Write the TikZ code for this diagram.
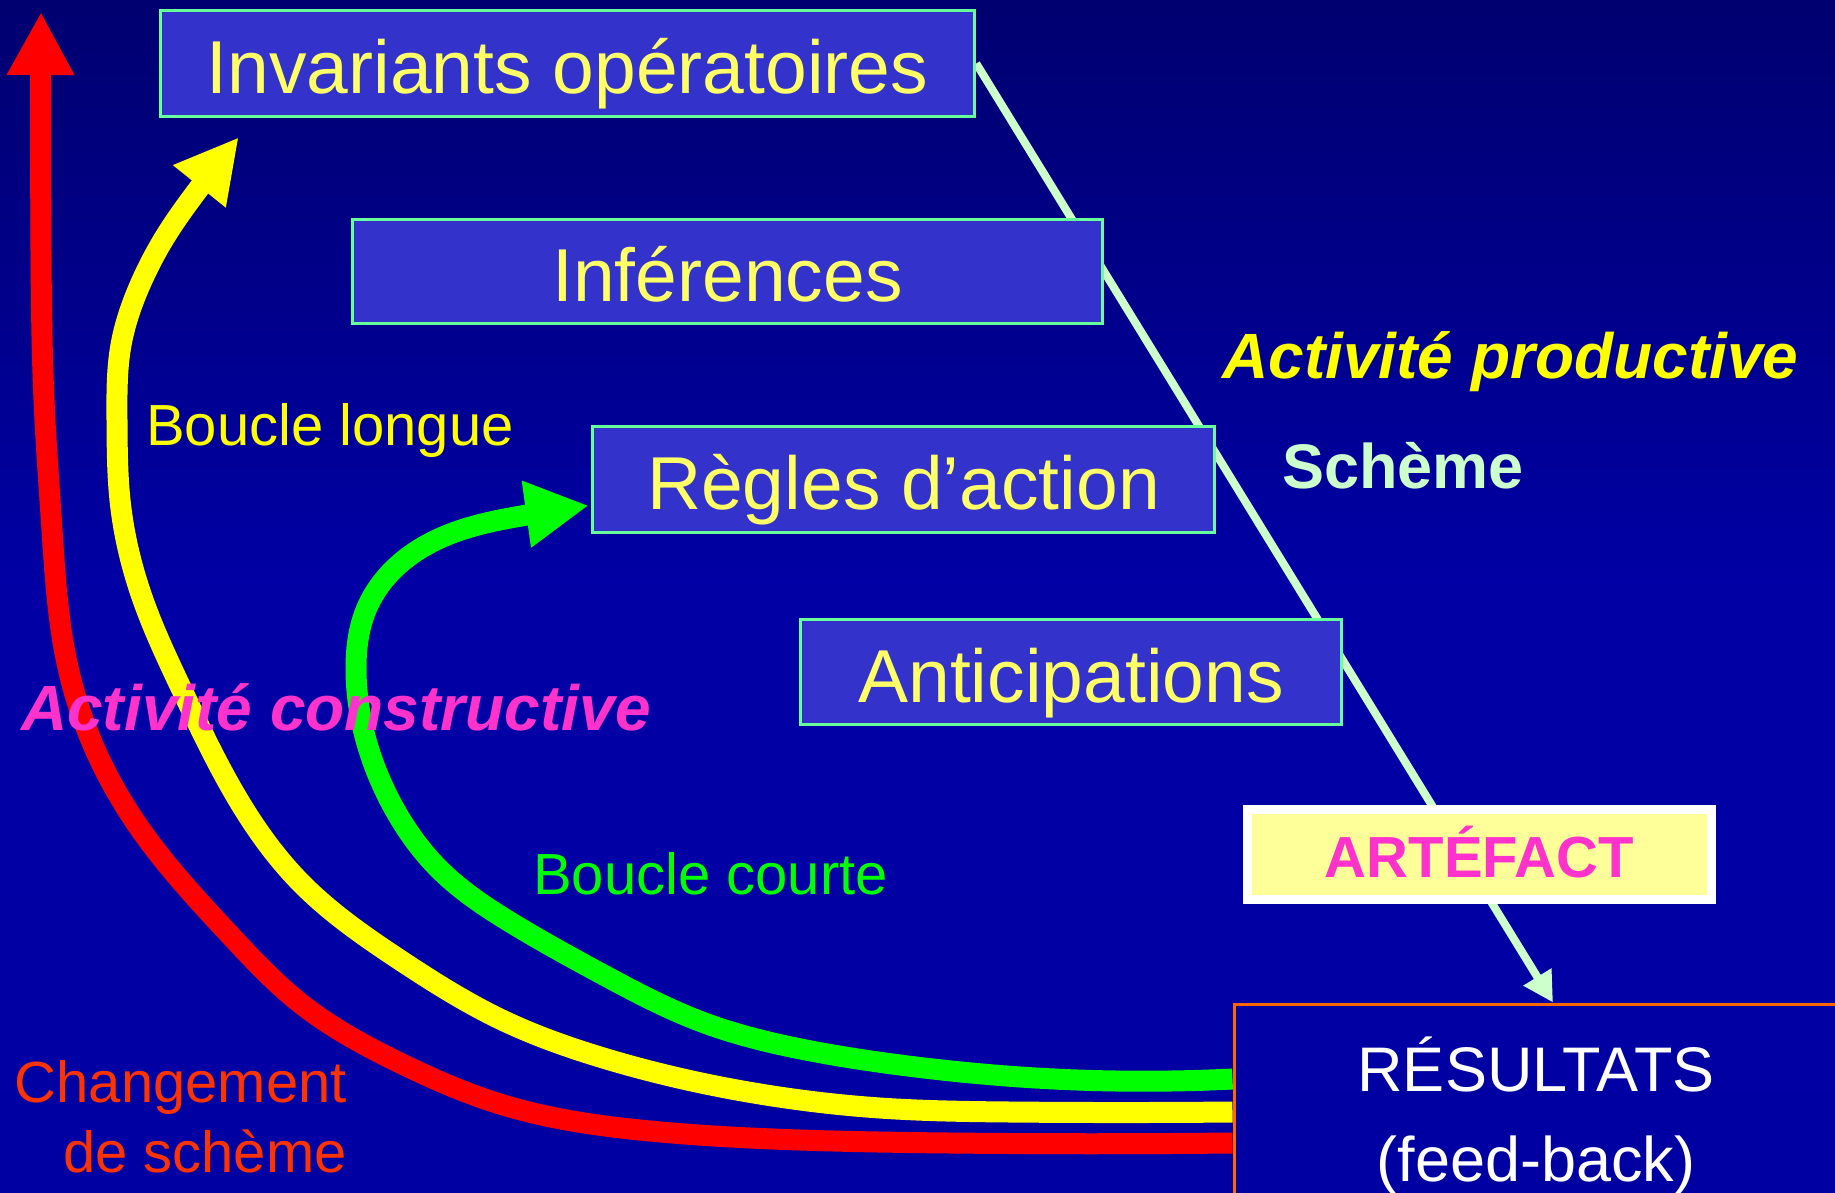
\documentclass[tikz,border=0pt]{standalone}
\usepackage{fontspec}
\setmainfont{Liberation Sans}
\usetikzlibrary{arrows.meta,hobby}
\definecolor{bgA}{RGB}{0,0,112}
\definecolor{bgB}{RGB}{0,0,165}
\definecolor{bgC}{RGB}{0,0,162}
\definecolor{boxfill}{RGB}{51,51,204}
\definecolor{boxline}{RGB}{102,255,153}
\definecolor{boxtext}{RGB}{255,255,102}
\definecolor{magentaA}{RGB}{255,51,204}
\definecolor{schemecol}{RGB}{204,255,204}
\definecolor{artfill}{RGB}{255,255,153}
\definecolor{resline}{RGB}{255,102,0}
\definecolor{chgcol}{RGB}{255,51,0}
\definecolor{bandred}{RGB}{255,0,0}
\definecolor{bandyel}{RGB}{255,255,0}
\definecolor{bandgrn}{RGB}{0,255,0}
\pgfdeclarelayer{back}
\pgfdeclarelayer{mid}
\pgfsetlayers{back,mid,main}
\begin{document}
\begin{tikzpicture}[x=1pt,y=-1pt,
  bx/.style={draw=boxline,line width=3.5pt,fill=boxfill,text=boxtext,inner sep=0pt,
    font=\fontsize{75}{90}\selectfont,text height=60pt,text depth=0pt},
  band/.style={line width=21pt,line join=round,use Hobby shortcut},
  bigtip/.style={-{Triangle[length=63pt,width=63pt]}},
  lbl/.style={inner sep=0pt,anchor=base west},
  smallfont/.style={font=\fontsize{58}{70}\selectfont},
  bifont/.style={font=\bfseries\itshape\fontsize{64}{76}\selectfont},
]
\useasboundingbox (0,0) rectangle (1835,1193);
\begin{pgfonlayer}{back}
\shade[top color=bgA, bottom color=bgC, middle color=bgB] (0,0) rectangle (1835,1193);
\end{pgfonlayer}

% boxes
\node[bx,minimum width=814pt,minimum height=106pt] (inv) at (567.5,63.5) {Invariants opératoires};
\node[bx,minimum width=750pt,minimum height=104pt] (inf) at (727.5,271.5) {Inférences};
\node[bx,minimum width=622pt,minimum height=106pt] (reg) at (903.5,479.5) {Règles d’action};
\node[bx,minimum width=541pt,minimum height=105pt] (ant) at (1071,672) {Anticipations};

\node[draw=resline,line width=3pt,minimum width=638pt,minimum height=260pt,inner sep=0pt,
  anchor=north west] (res) at (1232.5,1002.5) {};
\node[lbl,anchor=base,text=white,font=\fontsize{63}{75}\selectfont] (resA) at (1536,1091) {RÉSULTATS};
\node[lbl,anchor=base,text=white,font=\fontsize{63}{75}\selectfont] (resB) at (1536,1181) {(feed-back)};

% scheme line (behind boxes)
\begin{pgfonlayer}{mid}
\draw[schemecol,line width=8pt,-{Triangle[length=30pt,width=31pt]}] (inv.east) -- (res.north);
\end{pgfonlayer}

\node[draw=white,line width=9pt,fill=artfill,minimum width=464pt,minimum height=90pt,inner sep=0pt,
  text=magentaA,font=\bfseries\fontsize{58}{70}\selectfont,text height=46pt,text depth=0pt]
  (art) at (1479.5,854.5) {ARTÉFACT};

% loop coordinates
\coordinate (gS) at (res.west |- 0,1079);
\coordinate (yS) at (res.west |- 0,1112);
\coordinate (rS) at (res.west |- 0,1143);
\coordinate (gT) at ([yshift=-26pt,xshift=-2pt]reg.west);
\coordinate (yT) at ([xshift=80pt,yshift=-19pt]inv.south west);
\coordinate (rT) at (41,12);

% red: changement de scheme
\draw[band,bandred,bigtip] (rS) .. (950,1143) .. (800,1140) .. (650,1131) .. (500,1104)
  .. (400,1063) .. (300,1003) .. (230,935) .. (143,833) .. (98,756) .. (67,663)
  .. (52,530) .. (44,400) .. (41,250) .. (rT);

% yellow: boucle longue
\draw[band,bandyel,bigtip] (yS) .. (1010,1112) .. (880,1108) .. (760,1094) .. (600,1057)
  .. (500,1019) .. (400,960) .. (300,882) .. (236,796) .. (182,690) .. (142,597)
  .. (120,500) .. (117,420) .. (121,345) .. (140,285) .. (165,237) .. (200,187) .. (yT);

% green: boucle courte
\draw[band,bandgrn,bigtip] (gS) .. (1036,1078) .. (908,1066) .. (806,1050) .. (702,1022)
  .. (600,973) .. (510,922) .. (440,870) .. (395,810) .. (366,740) .. (356,670)
  .. (366,610) .. (395,568) .. (450,534) .. (527,515) .. (gT);

% labels
\node[lbl,text=bandyel,smallfont] (blong) at (146,445) {Boucle longue};
\node[lbl,text=bandgrn,smallfont] (bcourt) at (533,894) {Boucle courte};
\node[lbl,text=magentaA,bifont] (actc) at (21,730) {Activité constructive};
\node[lbl,text=bandyel,bifont] (actp) at (1222,378) {Activité productive};
\node[lbl,text=schemecol,font=\bfseries\fontsize{63}{75}\selectfont] (sch) at (1282,488) {Schème};
\node[inner sep=0pt,anchor=base east,text=chgcol,smallfont] (chg1) at (347,1102) {Changement};
\node[inner sep=0pt,anchor=base east,text=chgcol,smallfont] (chg2) at (347,1172) {de schème};
\end{tikzpicture}
\end{document}
